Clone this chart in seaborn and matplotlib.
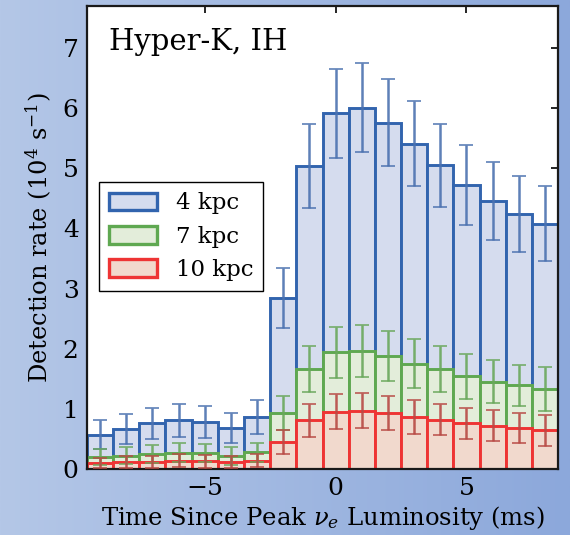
import numpy as np
import matplotlib
matplotlib.use("Agg")
import matplotlib.pyplot as plt
from matplotlib.patches import Patch
from matplotlib.colors import LinearSegmentedColormap
import seaborn as sns

# Time bins (ms since peak nu_e luminosity), 1 ms wide, centred on integers
time_bins = [-9, -8, -7, -6, -5, -4, -3, -2, -1, 0, 1, 2, 3, 4, 5, 6, 7, 8]

# Detection rates (10^4 s^-1) and 1-sigma uncertainties for each distance
rate_4kpc = [0.57, 0.67, 0.76, 0.81, 0.78, 0.68, 0.87, 2.85, 5.04, 5.92, 6.01,
             5.76, 5.41, 5.05, 4.72, 4.45, 4.24, 4.08]
err_4kpc = [0.24, 0.25, 0.26, 0.27, 0.27, 0.25, 0.28, 0.50, 0.70, 0.74, 0.74,
            0.72, 0.71, 0.69, 0.66, 0.65, 0.63, 0.62]

rate_7kpc = [0.20, 0.22, 0.25, 0.27, 0.26, 0.22, 0.28, 0.93, 1.66, 1.94, 1.96,
             1.88, 1.75, 1.66, 1.54, 1.45, 1.39, 1.33]
err_7kpc = [0.13, 0.14, 0.15, 0.16, 0.15, 0.15, 0.16, 0.29, 0.38, 0.42, 0.43,
            0.42, 0.41, 0.38, 0.37, 0.36, 0.34, 0.36]

rate_10kpc = [0.10, 0.11, 0.12, 0.14, 0.13, 0.11, 0.14, 0.45, 0.81, 0.95, 0.97,
              0.93, 0.87, 0.82, 0.76, 0.72, 0.68, 0.64]
err_10kpc = [0.09, 0.10, 0.10, 0.11, 0.11, 0.10, 0.11, 0.20, 0.27, 0.29, 0.29,
             0.28, 0.28, 0.26, 0.26, 0.26, 0.25, 0.25]

labels = ["4 kpc", "7 kpc", "10 kpc"]
edge_colors = ["#3264ae", "#5fa851", "#ee3434"]
fill_colors = ["#d5dcee", "#e3edda", "#f1d9cd"]
err_colors = ["#4c72b0", "#6aa85c", "#b84a45"]

sns.set_style("white")
plt.rcParams["font.family"] = ["DejaVu Serif"]
plt.rcParams["mathtext.fontset"] = "dejavuserif"
plt.rcParams["text.color"] = "black"
plt.rcParams["axes.labelcolor"] = "black"

fig = plt.figure(figsize=(5.7, 5.35), dpi=100)

# Soft horizontal blue gradient behind everything
bg = fig.add_axes([0, 0, 1, 1], zorder=-10)
cmap = LinearSegmentedColormap.from_list("bg", ["#b4c7e7", "#8ca8db"])
bg.imshow(np.linspace(0, 1, 256)[None, :], aspect="auto", cmap=cmap,
          extent=[0, 1, 0, 1])
bg.set_axis_off()

ax = fig.add_axes([0.1526, 0.1234, 0.8264, 0.8654])
ax.set_facecolor("white")

series = [(rate_4kpc, err_4kpc), (rate_7kpc, err_7kpc), (rate_10kpc, err_10kpc)]
for (rate, _), ec, fc in zip(series, edge_colors, fill_colors):
    sns.histplot(x=time_bins, weights=rate, discrete=True, element="bars",
                 fill=True, facecolor=fc, edgecolor=ec, linewidth=2.1,
                 ax=ax)

for (rate, err), c in zip(series, err_colors):
    ax.errorbar(time_bins, rate, yerr=err, fmt="none", ecolor=c,
                elinewidth=1.8, capsize=4.8, capthick=1.2, alpha=0.9,
                zorder=3)

ax.set_xlim(-9.5, 8.5)
ax.set_ylim(0, 7.7)
ax.set_xticks([-5, 0, 5])
ax.set_yticks(range(0, 8))
ax.tick_params(direction="in", length=5, width=1.2, top=True, right=True,
               labelsize=18, colors="black", pad=6)
for side in ax.spines.values():
    side.set_visible(True)
    side.set_color("#1a1a1a")
    side.set_linewidth(1.6)

ax.set_xlabel(r"Time Since Peak $\nu_e$ Luminosity (ms)", fontsize=17.5,
              labelpad=3)
ax.set_ylabel(r"Detection rate ($10^4$ s$^{-1}$)", fontsize=17.4, labelpad=6)

ax.text(0.047, 0.904, "Hyper-K, IH", transform=ax.transAxes, fontsize=21,
        va="baseline", ha="left", color="black")

handles = [Patch(facecolor=fc, edgecolor=ec, linewidth=2.4)
           for fc, ec in zip(fill_colors, edge_colors)]
leg = ax.legend(handles, labels, loc="upper left",
                bbox_to_anchor=(0.025, 0.62), fontsize=16.5, frameon=True,
                fancybox=False, edgecolor="black", framealpha=1,
                handlelength=2.1, handleheight=0.8, borderpad=0.45,
                labelspacing=0.5, handletextpad=0.8, borderaxespad=0)
leg.get_frame().set_linewidth(1.0)

fig.savefig("out.png", dpi=100)
